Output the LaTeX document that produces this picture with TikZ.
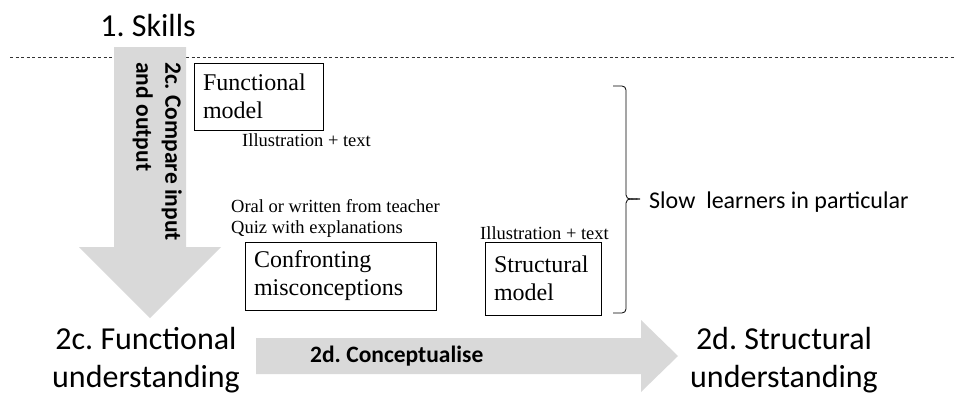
\documentclass[tikz,border=0pt]{standalone}
\usepackage{fontspec}
\setmainfont{Liberation Serif}
\newfontfamily\calibri{Carlito}
\definecolor{arrowfill}{HTML}{D9D9D9}
\tikzset{
  bigsans/.style={font=\calibri\fontsize{32}{38}\selectfont, align=center, inner sep=0pt},
  boldsans/.style={font=\calibri\bfseries\fontsize{23.5}{29}\selectfont, inner sep=0pt},
  modelbox/.style={draw, line width=0.9pt, align=left, inner xsep=9pt, inner ysep=0pt,
    font=\fontsize{24}{28}\selectfont},
  note/.style={font=\fontsize{18.5}{21}\selectfont, align=left, inner sep=0pt},
  bigarrow/.style={fill=arrowfill, draw=none},
}
\begin{document}
\frenchspacing
\begin{tikzpicture}[x=1pt, y=-1pt]
\useasboundingbox (0,0) rectangle (954,394);

% skills level and its boundary
\node[bigsans] (skills) at (148,26) {1. Skills};
\draw[dashed, dash pattern=on 3pt off 2.5pt, line width=0.6pt, black!80] (10,57) -- (954,57);

% downward arrow
\fill[bigarrow] (114,47) -- (186,47) -- (186,247) -- (221,247) -- (150,318)
  -- (79,247) -- (114,247) -- cycle;
\node[boldsans, rotate=-90, anchor=north west, align=left] (compare) at (182,62)
  {2c. Compare input\\and output};

% rightward arrow
\fill[bigarrow] (256,338) -- (641,338) -- (641,320) -- (678,356) -- (641,392)
  -- (641,374) -- (256,374) -- cycle;
\node[boldsans, anchor=west] (concept) at (310,356) {2d. Conceptualise};

% model boxes and notes
\node[modelbox, minimum width=129pt, minimum height=67pt, text width=111pt] (fm) at (258.5,96.5)
  {Functional\\model};
\node[note, anchor=north west] (illus1) at (242,133) {Illustration + text};

\node[note, anchor=south west] (oral) at (231,238)
  {Oral or written from teacher\\Quiz with explanations};
\node[modelbox, minimum width=191pt, minimum height=68pt, text width=173pt] (conf) at (340.5,276)
  {Confronting\\misconceptions};

\node[note, anchor=south west] (illus2) at (480,240) {Illustration + text};
\node[modelbox, minimum width=116pt, minimum height=73pt, text width=98pt] (struct) at (543,278.5)
  {Structural\\model};

% bracket for the group
\coordinate (btop) at (613,86);
\coordinate (bbot) at (613,313);
\coordinate (bmid) at (640,199);
\draw[line width=0.8pt] (btop) -- (622,86) to[out=0,in=90] (626,90) -- (626,195)
  to[out=-90,in=180] (bmid);
\draw[line width=0.8pt] (bbot) -- (622,313) to[out=0,in=-90] (626,309) -- (626,203)
  to[out=90,in=180] (bmid);
\node[font=\calibri\fontsize{24}{28}\selectfont, anchor=west, inner sep=0pt] (slow) at (649,202)
  {Slow\ \ learners in particular};

% understanding levels
\node[bigsans] (func) at (146,360) {2c. Functional\\understanding};
\node[bigsans] (structu) at (784,360) {2d. Structural\\understanding};
\end{tikzpicture}
\end{document}
